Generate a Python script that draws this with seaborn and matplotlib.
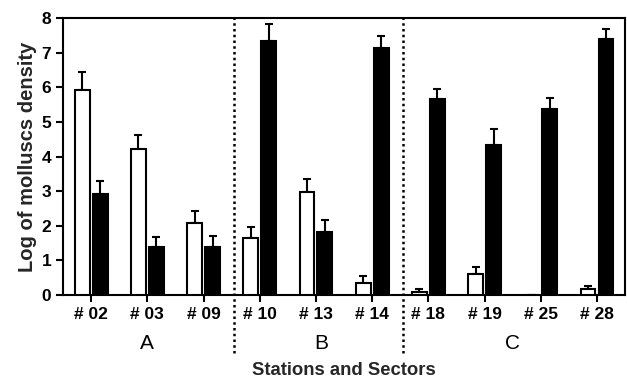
import numpy as np
import pandas as pd
import matplotlib
matplotlib.use("Agg")
import matplotlib.pyplot as plt
import matplotlib.transforms as mtransforms
import seaborn as sns

# values
stations = ["# 02", "# 03", "# 09", "# 10", "# 13", "# 14", "# 18", "# 19", "# 25", "# 28"]
open_mean = [5.93, 4.21, 2.09, 1.64, 2.97, 0.34, 0.08, 0.60, 0.0, 0.16]
open_err = [0.50, 0.42, 0.35, 0.31, 0.37, 0.21, 0.08, 0.22, np.nan, 0.11]
filled_mean = [2.92, 1.38, 1.40, 7.35, 1.83, 7.13, 5.66, 4.34, 5.38, 7.39]
filled_err = [0.36, 0.29, 0.31, 0.47, 0.34, 0.36, 0.30, 0.45, 0.31, 0.29]
sectors = ["A", "B", "C"]
sector_pos = [1, 4.1, 7.5]
dividers = [2.55, 5.55]

df = pd.DataFrame({
    "station": stations * 2,
    "value": open_mean + filled_mean,
    "group": ["open"] * len(stations) + ["filled"] * len(stations),
})

sns.set_style("ticks")
plt.rcParams["font.family"] = ["Liberation Sans", "DejaVu Sans"]

fig = plt.figure(figsize=(6.27, 3.80), dpi=100)
ax = fig.add_axes([0.1005, 0.2237, 0.8965, 0.7289])

sns.barplot(data=df, x="station", y="value", hue="group",
            palette={"open": "white", "filled": "black"},
            edgecolor="black", linewidth=1.5, width=0.64, gap=0.17,
            legend=False, ax=ax, zorder=3)

# upward error bars only
for cont, errs in zip(ax.containers, [open_err, filled_err]):
    xs = [p.get_x() + p.get_width() / 2 for p in cont.patches]
    ys = [p.get_height() for p in cont.patches]
    e = np.array(errs)
    ax.errorbar(xs, ys, yerr=[np.zeros_like(e), e], fmt="none",
                ecolor="black", elinewidth=1.5, capsize=3, capthick=1.5, zorder=2)

ax.set_xlim(-0.5, 9.5)
ax.set_ylim(0, 8)
ax.set_yticks(range(0, 9))

for s in ax.spines.values():
    s.set_linewidth(1.5)
    s.set_color("black")
ax.tick_params(axis="both", width=1.5, length=5, colors="black")
for lab in ax.get_xticklabels() + ax.get_yticklabels():
    lab.set_fontweight("bold")
    lab.set_fontsize(12.5)

ax.set_ylabel("Log of molluscs density", fontsize=14.5, fontweight="bold", labelpad=3)
ax.set_xlabel("Stations and Sectors", fontsize=13.3, fontweight="bold", labelpad=29)

trans = mtransforms.blended_transform_factory(ax.transData, ax.transAxes)
for xd in dividers:
    ax.plot([xd, xd], [-0.21, 1.0], transform=trans, color="black",
            linestyle=(0, (1, 1.3)), linewidth=1.8, clip_on=False, zorder=4)
for name, xp in zip(sectors, sector_pos):
    ax.text(xp, -0.175, name, transform=trans, ha="center", va="center",
            fontsize=15, color="black")

fig.savefig("out.png", dpi=100)
